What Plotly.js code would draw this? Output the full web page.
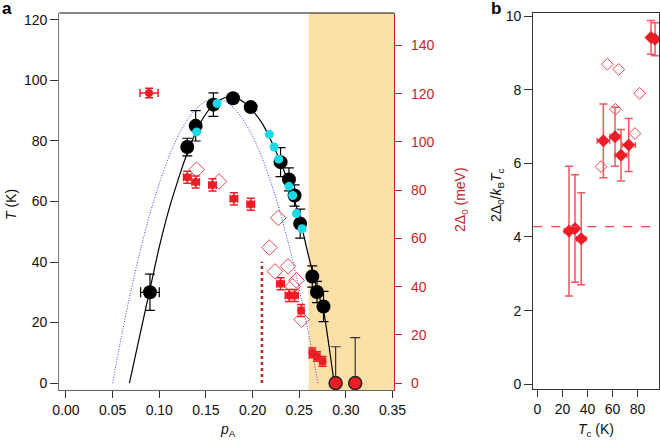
<!DOCTYPE html>
<html><head><meta charset="utf-8">
<script src="https://cdn.plot.ly/plotly-3.0.1.min.js"></script>
<style>html,body{margin:0;padding:0;background:#fff}#c{width:660px;height:440px}</style>
</head><body><div id="c"></div>
<script>
// Panel a: Tc (K) black circles
const pBlack = [0.090, 0.130, 0.139, 0.158, 0.179, 0.198, 0.230, 0.239, 0.245, 0.251, 0.264, 0.269, 0.276];
const TBlack = [30.0, 78.0, 85.0, 92.0, 94.1, 91.2, 73.0, 67.3, 62.0, 52.7, 35.2, 30.1, 25.3];
const TBlackErr = [6.0, 2.9, 5.0, 3.9, 0, 0, 4.8, 3.8, 3.5, 4.8, 3.5, 3.5, 5.0];
const pBlackErr = [0.010, 0, 0, 0, 0, 0, 0, 0, 0, 0, 0, 0, 0];
// Non-superconducting samples (Tc = 0, upper limits)
const pZero = [0.289, 0.310];
const TZero = [0, 0];
const TZeroUp = [12, 15];
// Cyan Tc points
const pCyan = [0.140, 0.162, 0.218, 0.223, 0.228, 0.239, 0.243, 0.247, 0.253];
const TCyan = [83.0, 92.4, 82.2, 78.0, 74.0, 65.0, 62.0, 56.0, 51.0];
// Gap 2Δ0 (meV), filled red
const pGap = [0.089, 0.130, 0.139, 0.157, 0.180, 0.198, 0.230, 0.239, 0.245, 0.252, 0.264, 0.269, 0.275];
const gap = [120.3, 85.4, 83.4, 82.2, 76.4, 74.2, 41.2, 36.3, 36.3, 30.1, 12.5, 11.0, 9.0];
const gapErr = [2.0, 2.5, 2.5, 2.5, 2.5, 2.5, 2.5, 2.5, 2.5, 2.5, 2.0, 2.0, 2.0];
const pGapErr = [0.0097, 0.004, 0.004, 0.004, 0.004, 0.004, 0.004, 0.004, 0.004, 0.003, 0.003, 0.003, 0.003];
// Gap 2Δ0 (meV), open diamonds
const pGapOpen = [0.140, 0.164, 0.2275, 0.218, 0.224, 0.238, 0.247, 0.243, 0.2526];
const gapOpen = [88.5, 83.6, 68.5, 56.2, 46.3, 48.4, 42.6, 40.1, 26.3];
// Black guide curve
const pFit = [0.068, 0.080, 0.090, 0.100, 0.110, 0.120, 0.130, 0.140, 0.150, 0.160, 0.170, 0.180, 0.190, 0.200, 0.210, 0.220, 0.230, 0.240, 0.250, 0.260, 0.270, 0.276, 0.282, 0.2875];
const TFit = [0, 17, 31, 45, 57, 67, 76, 83.5, 89, 92.5, 94.3, 94.5, 93, 90, 86, 80, 73, 65, 55, 42, 30, 24, 12, 0];
// Blue dotted dome
const pDome = [0.050, 0.060, 0.070, 0.080, 0.090, 0.100, 0.110, 0.120, 0.130, 0.140, 0.150, 0.160, 0.170, 0.180, 0.190, 0.200, 0.210, 0.220, 0.230, 0.240, 0.250, 0.260, 0.270];
const TDome = [0, 16.4, 31.1, 44.3, 56.0, 66.0, 74.6, 81.6, 87.0, 90.9, 93.2, 94.0, 93.2, 90.9, 87.0, 81.6, 74.6, 66.0, 56.0, 44.3, 31.1, 16.4, 0];
// Vertical dotted marker
const pMark = [0.21, 0.21];
const gapMark = [0, 50.3];
// Shaded region start
const pShade = 0.26;

// Panel b
const TcB = [25.2, 30.0, 35.0, 52.7, 62.0, 66.8, 73.0, 90.8, 94.0];
const ratioB = [4.16, 4.23, 3.95, 6.61, 6.72, 6.22, 6.50, 9.42, 9.37];
const ratioErr = [1.76, 1.46, 1.25, 1.00, 0.80, 0.70, 0.72, 0.46, 0.45];
const TcErr = [3.7, 2.5, 3.7, 5.0, 4.0, 4.8, 5.3, 1.0, 1.0];
const TcOpen = [55.9, 65.0, 81.7, 62.3, 78.0, 50.8];
const ratioOpen = [8.69, 8.55, 7.90, 7.47, 6.81, 5.91];
const ratioRef = 4.28;

const FONT = 'Liberation Sans, Arial, Helvetica, sans-serif';
const RED = '#ee1c25';
const AXRED = '#c1272d';

const traces = [
  {x: pDome, y: TDome, mode: 'lines', line: {color: '#3c3ce6', width: 1, dash: '1px,1.6px', shape: 'spline', smoothing: 0.5}, xaxis: 'x', yaxis: 'y'},
  {x: pFit, y: TFit, mode: 'lines', line: {color: '#000', width: 1.2, shape: 'spline', smoothing: 0.6}, xaxis: 'x', yaxis: 'y'},
  {x: pMark, y: gapMark, mode: 'lines', line: {color: AXRED, width: 2.5, dash: '3px,3px'}, xaxis: 'x', yaxis: 'y2'},
  {x: pGapOpen, y: gapOpen, mode: 'markers', marker: {symbol: 'diamond-open', size: 12, color: '#e8454d', line: {width: 1}}, xaxis: 'x', yaxis: 'y2'},
  {x: pGap, y: gap, mode: 'markers', marker: {symbol: 'circle', size: 8, color: RED},
   error_y: {type: 'data', array: gapErr, color: RED, thickness: 1.5, width: 4},
   error_x: {type: 'data', array: pGapErr, color: RED, thickness: 1.5, width: 4}, xaxis: 'x', yaxis: 'y2'},
  {x: pBlack, y: TBlack, mode: 'markers', marker: {symbol: 'circle', size: 14, color: '#000'},
   error_y: {type: 'data', array: TBlackErr, color: '#000', thickness: 1.2, width: 5},
   error_x: {type: 'data', array: pBlackErr, color: '#000', thickness: 1.2, width: 5}, xaxis: 'x', yaxis: 'y'},
  {x: pCyan, y: TCyan, mode: 'markers', marker: {symbol: 'circle', size: 9, color: '#19dbe8'}, xaxis: 'x', yaxis: 'y'},
  {x: pZero, y: TZero, mode: 'markers', marker: {symbol: 'circle', size: 13, color: RED, line: {color: '#222', width: 1.5}},
   error_y: {type: 'data', symmetric: false, array: TZeroUp, arrayminus: [0, 0], color: '#333', thickness: 1.2, width: 5},
   xaxis: 'x', yaxis: 'y', cliponaxis: false},
  // Panel b
  {x: TcOpen, y: ratioOpen, mode: 'markers', marker: {symbol: 'diamond-open', size: 9, color: '#e8454d', line: {width: 1}}, xaxis: 'x2', yaxis: 'y3'},
  {x: TcB, y: ratioB, mode: 'markers', marker: {symbol: 'diamond', size: 10, color: RED},
   error_y: {type: 'data', array: ratioErr, color: '#f0575e', thickness: 1.5, width: 4},
   error_x: {type: 'data', array: TcErr, color: '#f0575e', thickness: 1.5, width: 3}, xaxis: 'x2', yaxis: 'y3'}
];

const tickFont = {family: FONT, size: 14, color: '#111'};
const layout = {
  width: 660, height: 440, showlegend: false,
  margin: {l: 0, r: 0, t: 0, b: 0},
  paper_bgcolor: '#fff', plot_bgcolor: 'rgba(0,0,0,0)',
  font: {family: FONT, size: 14, color: '#111'},
  xaxis: {domain: [0.0898, 0.597], anchor: 'y', range: [-0.0072, 0.3516],
    tickvals: [0, 0.05, 0.1, 0.15, 0.2, 0.25, 0.3, 0.35], tickformat: '.2f',
    ticks: 'outside', ticklen: 7, tickcolor: '#333', tickfont: tickFont,
    showline: true, linecolor: '#666', linewidth: 1.2, mirror: false, showgrid: false, zeroline: false},
  yaxis: {domain: [0.1136, 0.9705], anchor: 'x', range: [-2.3, 122.3],
    tickvals: [0, 20, 40, 60, 80, 100, 120], ticks: 'outside', ticklen: 8, tickcolor: '#333', tickfont: tickFont,
    showline: true, linecolor: '#777', linewidth: 1.2, showgrid: false, zeroline: false},
  yaxis2: {overlaying: 'y', side: 'right', anchor: 'x', range: [-2.89, 153.5],
    tickvals: [0, 20, 40, 60, 80, 100, 120, 140], ticks: 'outside', ticklen: 7, tickcolor: AXRED,
    tickfont: {family: FONT, size: 14, color: AXRED}, ticklabelstandoff: 6,
    showline: true, linecolor: AXRED, linewidth: 1.2, showgrid: false, zeroline: false},
  xaxis2: {domain: [0.808, 0.9985], anchor: 'y3', range: [-3.36, 97.2],
    tickvals: [0, 20, 40, 60, 80], ticks: 'outside', ticklen: 7, tickcolor: '#333', tickfont: tickFont,
    showline: true, linecolor: '#333', linewidth: 1.2, mirror: true, showgrid: false, zeroline: false},
  yaxis3: {domain: [0.1159, 0.9711], anchor: 'x2', range: [-0.128, 10.09],
    tickvals: [0, 2, 4, 6, 8, 10], ticks: 'outside', ticklen: 8, tickcolor: '#333', tickfont: tickFont,
    showline: true, linecolor: '#333', linewidth: 1.2, mirror: true, showgrid: false, zeroline: false},
  shapes: [
    {type: 'rect', layer: 'below', xref: 'x', yref: 'y domain', x0: pShade, x1: 0.3516, y0: 0, y1: 1,
     fillcolor: '#fddfa8', line: {width: 0}},
    {type: 'line', xref: 'x domain', yref: 'y domain', x0: 0, x1: 1, y0: 1, y1: 1, line: {color: '#111', width: 1.2}},
    {type: 'line', layer: 'above', xref: 'x2 domain', yref: 'y3', x0: 0, x1: 1, y0: ratioRef, y1: ratioRef,
     line: {color: '#e8454d', width: 1.3, dash: 'dash'}}
  ],
  annotations: [
    {text: '<b>a</b>', x: 7 / 660, y: 1 - 8 / 440, xref: 'paper', yref: 'paper', showarrow: false, font: {size: 17, color: '#000'}, xanchor: 'center', yanchor: 'middle'},
    {text: '<b>b</b>', x: 496 / 660, y: 1 - 8 / 440, xref: 'paper', yref: 'paper', showarrow: false, font: {size: 17, color: '#000'}, xanchor: 'center', yanchor: 'middle'},
    {text: '<i>T</i> (K)', x: 11 / 660, y: 1 - 205 / 440, xref: 'paper', yref: 'paper', textangle: -90, showarrow: false, font: {size: 14}, xanchor: 'center', yanchor: 'middle'},
    {text: '<i>p</i><sub>A</sub>', x: 228 / 660, y: 1 - 430 / 440, xref: 'paper', yref: 'paper', showarrow: false, font: {size: 14}, xanchor: 'center', yanchor: 'middle'},
    {text: '2Δ<sub>0</sub> (meV)', x: 461 / 660, y: 1 - 200 / 440, xref: 'paper', yref: 'paper', textangle: -90, showarrow: false, font: {size: 14, color: AXRED}, xanchor: 'center', yanchor: 'middle'},
    {text: '2Δ<sub>0</sub>/<i>k</i><sub>B</sub><i>T</i><sub>c</sub>', x: 497 / 660, y: 1 - 195 / 440, xref: 'paper', yref: 'paper', textangle: -90, showarrow: false, font: {size: 14}, xanchor: 'center', yanchor: 'middle'},
    {text: '<i>T</i><sub>c</sub> (K)', x: 596 / 660, y: 1 - 430 / 440, xref: 'paper', yref: 'paper', showarrow: false, font: {size: 14}, xanchor: 'center', yanchor: 'middle'}
  ]
};
Plotly.newPlot('c', traces, layout, {displayModeBar: false, staticPlot: true});
</script></body></html>
